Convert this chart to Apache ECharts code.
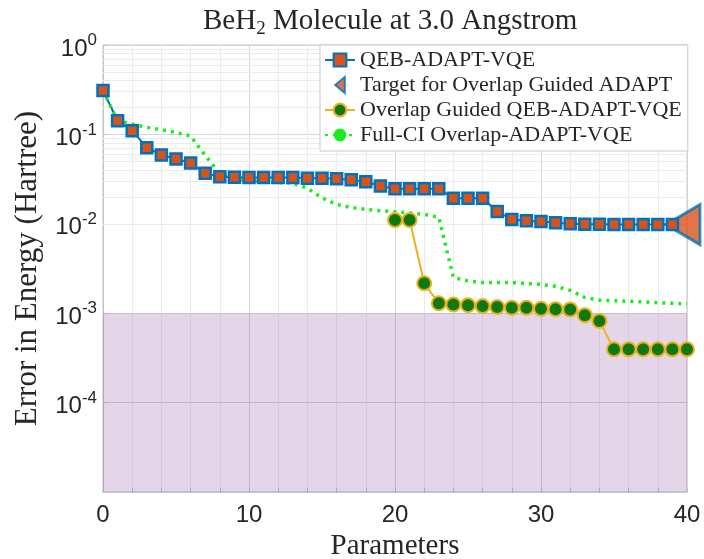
<!DOCTYPE html>
<html>
<head>
<meta charset="utf-8">
<script src="https://cdn.jsdelivr.net/npm/echarts@6/dist/echarts.min.js"></script>
<style>
  html, body { margin: 0; padding: 0; background: #fff; }
  #chart { width: 704px; height: 559px; }
</style>
</head>
<body>
<div id="chart"></div>
<script>
// values (error in Hartree)
var qebX = [0,1,2,3,4,5,6,7,8,9,10,11,12,13,14,15,16,17,18,19,20,21,22,23,24,25,26,27,28,29,30,31,32,33,34,35,36,37,38,39];
var qebErr = [0.31,0.142,0.11,0.071,0.059,0.053,0.048,0.0367,0.0337,0.0331,0.033,0.033,0.033,0.033,0.0323,0.0323,0.032,0.031,0.0296,0.0265,
  0.0247,0.0247,0.0247,0.0247,0.0193,0.0193,0.0193,0.0137,0.0112,0.0108,0.0106,0.0103,0.0100,0.0099,0.0099,0.0098,0.0098,0.0098,0.0098,0.0098];

var targetX = [40];
var targetErr = [0.0098];

var ogX = [20,21,22,23,24,25,26,27,28,29,30,31,32,33,34,35,36,37,38,39,40];
var ogErr = [0.011,0.011,0.00216,0.00129,0.00125,0.00123,0.0012,0.00117,0.00115,0.00115,0.00112,0.00111,0.0011,0.00095,0.00082,
  0.000394,0.000394,0.000394,0.000394,0.000394,0.000394];

var fciX = [0,1,2,3,4,5,6,7,8,9,10,11,12,13,14,15,16,17,18,19,20,21,22,23,24,25,26,27,28,29,30,31,32,33,34,35,36,37,38,39,40];
var fciErr = [0.31,0.142,0.13,0.12,0.113,0.105,0.096,0.058,0.037,0.0315,0.0302,0.0295,0.029,0.0285,0.025,0.0195,0.0165,0.0152,0.0145,0.014,
  0.0136,0.0132,0.0128,0.0118,0.0025,0.0023,0.0022,0.0022,0.0022,0.00215,0.0021,0.002,0.0018,0.0015,0.0014,0.00138,0.00136,0.00134,0.00131,0.00129,0.00127];

var yTicks = [1e-5, 1e-4, 1e-3, 1e-2, 1e-1, 1];
var shadeRange = [1e-5, 1e-3];

function pairs(xs, ys) {
  return xs.map(function (x, i) { return [x, ys[i]]; });
}

// minor log grid lines (2..9 per decade)
var minorLines = [];
for (var d = 0; d < yTicks.length - 1; d++) {
  for (var m = 2; m <= 9; m++) {
    minorLines.push({ yAxis: yTicks[d] * m });
  }
}

var serif = '"Liberation Serif", "DejaVu Serif", serif';
var sans = '"Liberation Sans", Arial, sans-serif';
var ink = '#262626';

var chart = echarts.init(document.getElementById('chart'));
chart.setOption({
  animation: false,
  backgroundColor: '#fff',
  title: {
    text: '{t|BeH}{s|2}{t| Molecule at 3.0 Angstrom}',
    left: 198,
    top: -2,
    textStyle: {
      fontWeight: 'normal',
      rich: {
        t: { fontFamily: serif, fontSize: 29, fontWeight: 'normal', color: ink, lineHeight: 36 },
        s: { fontFamily: serif, fontSize: 19, fontWeight: 'normal', color: ink, verticalAlign: 'bottom', lineHeight: 26 }
      }
    }
  },
  legend: {
    orient: 'vertical',
    left: 320,
    top: 45,
    itemWidth: 30,
    itemHeight: 16,
    itemGap: 3,
    padding: [4, 6, 5, 4],
    backgroundColor: '#fff',
    borderColor: '#c8c8c8',
    borderWidth: 1,
    textStyle: { fontFamily: serif, fontSize: 22, color: ink },
    data: [
      'QEB-ADAPT-VQE',
      { name: 'Target for Overlap Guided ADAPT', icon: 'path://M0,10 L12,0 L12,20 Z' },
      'Overlap Guided QEB-ADAPT-VQE',
      'Full-CI Overlap-ADAPT-VQE'
    ]
  },
  grid: {
    left: 103,
    right: 17,
    top: 45,
    bottom: 67,
    outerBoundsMode: 'none',
    show: true,
    borderColor: '#c4c4c4',
    borderWidth: 1
  },
  xAxis: {
    type: 'value',
    min: 0,
    max: 40,
    interval: 2,
    name: 'Parameters',
    nameLocation: 'middle',
    nameGap: 32,
    nameTextStyle: { fontFamily: serif, fontSize: 29, color: ink },
    axisLine: { lineStyle: { color: '#c4c4c4' } },
    axisTick: { inside: true, length: 4, lineStyle: { color: '#c4c4c4' } },
    axisLabel: {
      fontFamily: sans, fontSize: 24, color: ink, margin: 11,
      formatter: function (v) { return v % 10 === 0 ? String(v) : ''; }
    },
    splitLine: {
      show: true,
      lineStyle: { color: ['#d6d6d6', '#ececec', '#ececec', '#ececec', '#ececec'], width: 1 }
    }
  },
  yAxis: {
    type: 'log',
    logBase: 10,
    min: 1e-5,
    max: 1,
    name: 'Error in Energy (Hartree)',
    nameLocation: 'middle',
    nameGap: 60,
    nameTextStyle: { fontFamily: serif, fontSize: 31, color: ink },
    axisLine: { lineStyle: { color: '#c4c4c4' } },
    axisTick: { inside: true, length: 5, lineStyle: { color: '#c4c4c4' } },
    axisLabel: {
      margin: 6,
      padding: [8, 0, 0, 0],
      formatter: function (v) {
        var e = Math.round(Math.log10(v));
        if (e === -5) return '';
        return '{b|10}{s|' + e + '}';
      },
      rich: {
        b: { fontFamily: sans, fontSize: 24, color: ink, lineHeight: 34 },
        s: { fontFamily: sans, fontSize: 17, color: ink, verticalAlign: 'top', lineHeight: 18 }
      }
    },
    splitLine: { show: true, lineStyle: { color: '#d6d6d6', width: 1 } }
  },
  series: [
    {
      name: 'shade',
      type: 'line',
      data: [],
      z: 1,
      silent: true,
      markLine: {
        silent: true,
        z: 1,
        symbol: 'none',
        label: { show: false },
        lineStyle: { color: '#ececec', type: 'solid', width: 1 },
        data: minorLines
      },
      markArea: {
        silent: true,
        z: 1,
        itemStyle: { color: 'rgba(126,47,142,0.2)' },
        data: [[{ xAxis: 0, yAxis: shadeRange[0] }, { xAxis: 40, yAxis: shadeRange[1] }]]
      }
    },
    {
      name: 'QEB-ADAPT-VQE',
      type: 'line',
      data: pairs(qebX, qebErr),
      symbol: 'rect',
      symbolSize: 11,
      showAllSymbol: true,
      clip: false,
      lineStyle: { color: '#0072BD', width: 2 },
      itemStyle: { color: '#D95319', borderColor: '#0072BD', borderWidth: 2.5 }
    },
    {
      name: 'Target for Overlap Guided ADAPT',
      type: 'scatter',
      data: pairs(targetX, targetErr),
      symbol: 'triangle',
      symbolSize: [40, 34],
      symbolRotate: 90,
      symbolOffset: [-4, 0],
      clip: false,
      itemStyle: { color: '#D95319', borderColor: '#0072BD', borderWidth: 3 }
    },
    {
      name: 'Overlap Guided QEB-ADAPT-VQE',
      type: 'line',
      data: pairs(ogX, ogErr),
      symbol: 'circle',
      symbolSize: 14,
      showAllSymbol: true,
      clip: false,
      lineStyle: { color: '#EDB120', width: 2 },
      itemStyle: { color: '#0E7A0E', borderColor: '#EDB120', borderWidth: 2 }
    },
    {
      name: 'Full-CI Overlap-ADAPT-VQE',
      type: 'line',
      data: pairs(fciX, fciErr),
      symbol: 'none',
      clip: false,
      lineStyle: { color: '#1EEB1E', width: 3.5, type: [3, 5] },
      itemStyle: { color: '#1EEB1E' }
    }
  ]
});
</script>
</body>
</html>
